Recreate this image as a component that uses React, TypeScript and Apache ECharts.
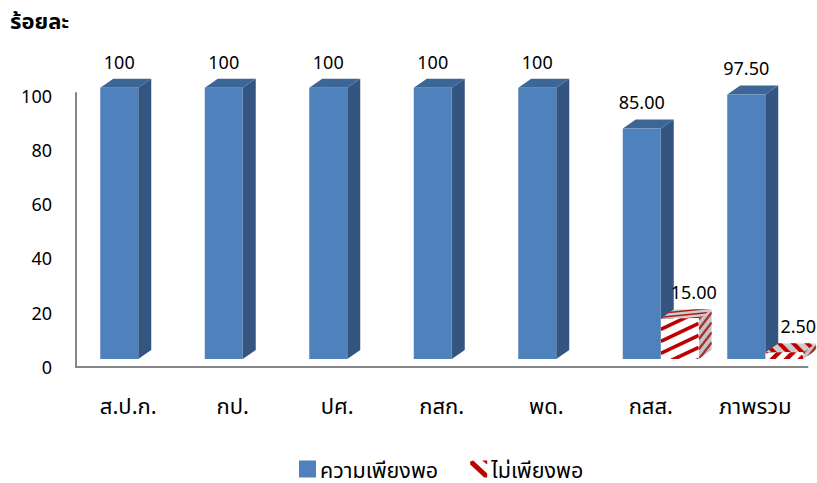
import React, { useEffect, useRef } from "react";
import * as echarts from "echarts";

const categories = ["ส.ป.ก.", "กป.", "ปศ.", "กสก.", "พด.", "กสส.", "ภาพรวม"];
const sufficient = [100, 100, 100, 100, 100, 85, 97.5];
const insufficient = [0, 0, 0, 0, 0, 15, 2.5];
const sufficientLabels = ["100", "100", "100", "100", "100", "85.00", "97.50"];
const insufficientLabels = ["", "", "", "", "", "15.00", "2.50"];
const FONT = "'Noto Sans', 'Noto Sans Thai', Tahoma, 'DejaVu Sans', sans-serif";

const HATCH_ICON =
  "path://M0 1L3 0L17 13L17 17L14 17L0 4ZM12 0L17 0L17 4Z";

const FW = 38, DX = 13, DY = 9, LIFT = 8;

function stripes(
  x0: number, y0: number, x1: number, y1: number,
  slope: number, period: number, width: number, color: string, anchor = y0
) {
  const out: any[] = [];
  const w = x1 - x0;
  const cMin = y0 - Math.max(0, slope * w) - period;
  const cMax = y1 - Math.min(0, slope * w) + period;
  const start = anchor + Math.ceil((cMax - anchor) / period) * period;
  for (let c = start; c > cMin; c -= period) {
    out.push({
      type: "line",
      shape: { x1: x0, y1: c, x2: x1, y2: c + slope * w },
      style: { stroke: color, lineWidth: width, fill: "none" },
    });
  }
  return out;
}

function face(points: number[][], base: string, lines: any[]) {
  return {
    type: "group",
    clipPath: { type: "polygon", shape: { points } },
    children: [
      { type: "polygon", shape: { points }, style: { fill: base } },
      ...lines,
    ],
  };
}

function boxPoints(x: number, top: number, bottom: number) {
  return {
    front: [[x, top], [x + FW, top], [x + FW, bottom], [x, bottom]],
    topF: [[x, top], [x + DX, top - DY], [x + FW + DX, top - DY], [x + FW, top]],
    side: [[x + FW, top], [x + FW + DX, top - DY], [x + FW + DX, bottom - DY], [x + FW, bottom]],
  };
}

function renderSolid(params: any, api: any) {
  const i = api.value(0);
  const v = api.value(1);
  const c = api.coord([i, v]);
  const b = api.coord([i, 0]);
  const x = c[0] - 28;
  const top = c[1] - LIFT;
  const bottom = b[1] - LIFT;
  const p = boxPoints(x, top, bottom);
  return {
    type: "group",
    children: [
      { type: "polygon", shape: { points: p.side }, style: { fill: "#34557F" } },
      { type: "polygon", shape: { points: p.topF }, style: { fill: "#3C6696" } },
      { type: "polygon", shape: { points: p.front }, style: { fill: "#4F81BD" } },
      {
        type: "text",
        style: {
          x: x + FW / 2, y: top - 26, text: sufficientLabels[i],
          fill: "#000", font: `18px ${FONT}`, align: "center", verticalAlign: "middle",
        },
      },
    ],
  };
}

function renderHatched(params: any, api: any) {
  const i = api.value(0);
  const v = api.value(1);
  if (!v) return null;
  const c = api.coord([i, v]);
  const b = api.coord([i, 0]);
  const x = c[0] + 10;
  const top = c[1] - LIFT;
  const bottom = b[1] - LIFT;
  const p = boxPoints(x, top, bottom);
  const red = "#C00000";
  const shallow = bottom - top < 15;
  const sideLines = stripes(x + FW, top - DY, x + FW + DX, bottom, -1.3, 10, 2.4, "#A83232");
  const topLines = shallow
    ? stripes(x, top - DY, x + FW + DX, top, 1, 14, 4, red)
    : stripes(x, top - DY, x + FW + DX, top, -0.1, 4, 1.5, "#B01818");
  const frontLines = shallow
    ? stripes(x, top, x + FW, bottom, -1, 14, 4.5, red)
    : stripes(x, top, x + FW, bottom, -0.47, 12, 3.6, red, top + 11);
  return {
    type: "group",
    children: [
      face(p.side, "#C4C4C4", sideLines),
      face(p.topF, "#CDCDCD", topLines),
      face(p.front, "#FFFFFF", frontLines),
      {
        type: "text",
        style: {
          x: x + FW / 2 + 14, y: top - 26, text: insufficientLabels[i],
          fill: "#000", font: `18px ${FONT}`, align: "center", verticalAlign: "middle",
        },
      },
    ],
  };
}

export default function App() {
  const ref = useRef<HTMLDivElement>(null);
  useEffect(() => {
    const chart = echarts.init(ref.current!, null, { renderer: "svg" });
    chart.setOption({
      animation: false,
      backgroundColor: "#fff",
      title: {
        text: "ร้อยละ",
        left: 10,
        top: 9,
        padding: 0,
        textStyle: { fontFamily: FONT, fontSize: 22, fontWeight: "bold", color: "#000" },
      },
      legend: {
        left: 299,
        top: 458,
        padding: 0,
        itemWidth: 17,
        itemHeight: 17,
        itemGap: 32,
        textStyle: { fontFamily: FONT, fontSize: 21.5, color: "#000", padding: [0, 0, 4, -1] },
        data: [
          { name: "ความเพียงพอ", icon: "rect", itemStyle: { color: "#4F81BD" } },
          { name: "ไม่เพียงพอ", icon: HATCH_ICON, itemStyle: { color: "#C00000" } },
        ],
      },
      grid: { left: 76, right: 9.5, top: 93, height: 274, containLabel: false },
      xAxis: {
        type: "category",
        data: categories,
        axisLine: { show: true, lineStyle: { color: "#868686", width: 2 } },
        axisTick: { show: false },
        axisLabel: { color: "#000", fontFamily: FONT, fontSize: 22, margin: 27 },
      },
      yAxis: {
        type: "value",
        min: 0,
        max: 101,
        interval: 20,
        splitLine: { show: false },
        axisLine: { show: true, lineStyle: { color: "#868686", width: 2 } },
        axisTick: { show: false },
        axisLabel: { color: "#000", fontFamily: FONT, fontSize: 18, margin: 24, showMaxLabel: false },
      },
      series: [
        {
          name: "ความเพียงพอ",
          type: "custom",
          clip: false,
          itemStyle: { color: "#4F81BD" },
          renderItem: renderSolid,
          encode: { x: 0, y: 1 },
          data: sufficient.map((v, i) => [i, v]),
        },
        {
          name: "ไม่เพียงพอ",
          type: "custom",
          clip: false,
          itemStyle: { color: "#C00000" },
          renderItem: renderHatched,
          encode: { x: 0, y: 1 },
          data: insufficient.map((v, i) => [i, v]),
        },
      ],
    });
    return () => chart.dispose();
  }, []);
  return <div ref={ref} style={{ position: "fixed", left: 0, top: 0, width: 817, height: 483 }} />;
}
